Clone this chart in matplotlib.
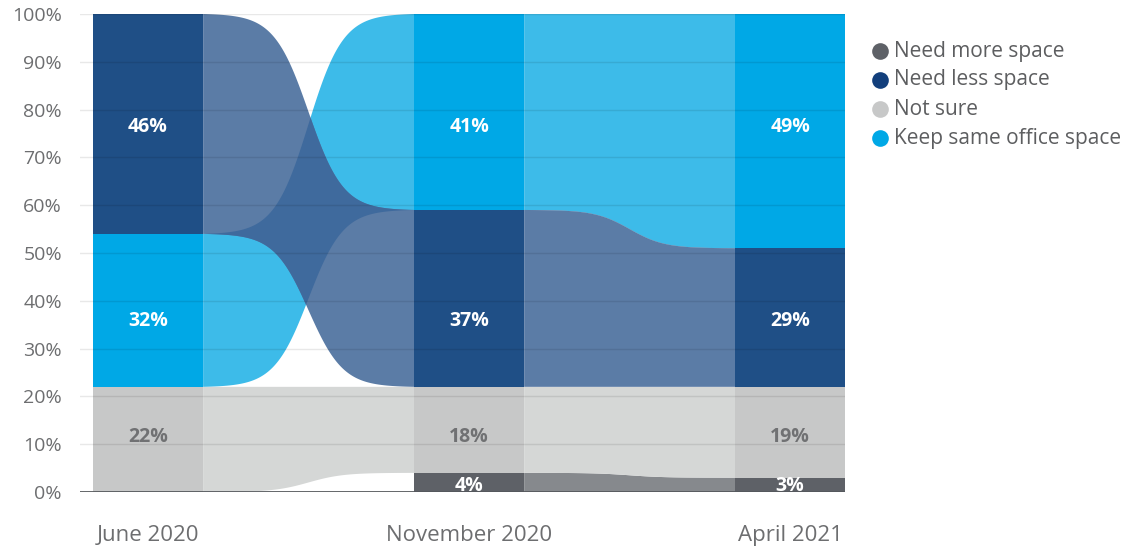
import numpy as np
import matplotlib
matplotlib.use("Agg")
import matplotlib.pyplot as plt
from matplotlib.lines import Line2D
from matplotlib.patches import Polygon

plt.rcParams["font.family"] = ["Open Sans", "DejaVu Sans"]

# ---- data -------------------------------------------------------------
periods = ["June 2020", "November 2020", "April 2021"]
series = ["Need more space", "Need less space", "Not sure", "Keep same office space"]
need_more = [0, 4, 3]
need_less = [46, 37, 29]
not_sure = [22, 18, 19]
keep_same = [32, 41, 49]
values = {
    "Need more space": need_more,
    "Need less space": need_less,
    "Not sure": not_sure,
    "Keep same office space": keep_same,
}
# bottom-to-top stacking order of each period's column
stack_order = [
    ["Need more space", "Not sure", "Keep same office space", "Need less space"],
    ["Need more space", "Not sure", "Need less space", "Keep same office space"],
    ["Need more space", "Not sure", "Need less space", "Keep same office space"],
]
# label heights per column (labels sit on fixed rows)
label_y_by_period = [
    {"Need more space": 1.3, "Not sure": 11.5, "Keep same office space": 35.8, "Need less space": 76.4},
    {"Need more space": 1.3, "Not sure": 11.5, "Need less space": 35.8, "Keep same office space": 76.4},
    {"Need more space": 1.3, "Not sure": 11.5, "Need less space": 35.8, "Keep same office space": 76.4},
]

# ---- style ------------------------------------------------------------
bar_colors = {
    "Need more space": "#5e6167",
    "Need less space": "#1f4f86",
    "Not sure": "#c7c8c8",
    "Keep same office space": "#00a8e6",
}
flow_colors = {
    "Need more space": "#86898d",
    "Need less space": "#5b7ca6",
    "Not sure": "#d5d7d6",
    "Keep same office space": "#3dbbe9",
}
crossing_color = "#3f6a9d"
label_color = {
    "Need more space": "white",
    "Need less space": "white",
    "Not sure": "#707173",
    "Keep same office space": "white",
}
legend_colors = {
    "Need more space": "#5e6167",
    "Need less space": "#123f7c",
    "Not sure": "#c7c8c8",
    "Keep same office space": "#00a8e6",
}
flow_z = {"Need more space": 1, "Not sure": 2, "Keep same office space": 3, "Need less space": 4}
text_grey = "#6d6e70"
bar_w = 0.343

W, H = 1125, 550
fig = plt.figure(figsize=(W / 100, H / 100), dpi=100)
ax = fig.add_axes([80 / W, 1 - 492 / H, 765 / W, 478 / H])
ax.set_xlim(-0.212, 2.171)
ax.set_ylim(0, 100)

# stacked extents per period
extents = [{} for _ in periods]
for p, order in enumerate(stack_order):
    base = 0
    for s in order:
        v = values[s][p]
        extents[p][s] = (base, base + v)
        base += v


def band(x0, x1, lo0, hi0, lo1, hi1, k=6.1):
    """Polygon of a smooth ribbon from one column edge to the next."""
    u = np.linspace(0, 1, 300)
    f = (np.tanh(k * (u - 0.5)) / np.tanh(k / 2) + 1) / 2
    xs = x0 + (x1 - x0) * u
    top = hi0 + (hi1 - hi0) * f
    bot = lo0 + (lo1 - lo0) * f
    return np.column_stack([np.concatenate([xs, xs[::-1]]), np.concatenate([top, bot[::-1]])])


# flows between neighbouring columns
for p in range(len(periods) - 1):
    x0 = p + bar_w / 2
    x1 = p + 1 - bar_w / 2
    polys = {}
    for s in series:
        if values[s][p] == 0 or values[s][p + 1] == 0:
            continue
        lo0, hi0 = extents[p][s]
        lo1, hi1 = extents[p + 1][s]
        polys[s] = band(x0, x1, lo0, hi0, lo1, hi1)
        ax.add_patch(Polygon(polys[s], closed=True, facecolor=flow_colors[s], lw=0, zorder=flow_z[s]))
    # where the two blue flows cross, shade the shared area
    ks, nl = polys.get("Keep same office space"), polys.get("Need less space")
    if ks is not None and nl is not None:
        clip = Polygon(ks, closed=True, transform=ax.transData, facecolor="none", lw=0)
        ax.add_patch(clip)
        cross = Polygon(nl, closed=True, facecolor=crossing_color, lw=0, zorder=5)
        ax.add_patch(cross)
        cross.set_clip_path(clip)

# columns
for p in range(len(periods)):
    for s in stack_order[p]:
        lo, hi = extents[p][s]
        if hi - lo <= 0:
            continue
        ax.bar(p, hi - lo, bottom=lo, width=bar_w, color=bar_colors[s], lw=0, zorder=6)
        ax.text(p, label_y_by_period[p][s], f"{values[s][p]}%", ha="center", va="center",
                color=label_color[s], fontsize=14, fontweight="bold", zorder=9)

# grid over everything, faint
for y in range(10, 101, 10):
    ax.axhline(y, color="black", alpha=0.09, lw=1, zorder=8)
ax.axhline(0, color="#55585c", lw=2, zorder=8)

for sp in ax.spines.values():
    sp.set_visible(False)
ax.set_yticks(range(0, 101, 10))
ax.set_yticklabels([f"{v}%" for v in range(0, 101, 10)])
ax.set_xticks(range(len(periods)))
ax.set_xticklabels(periods)
ax.tick_params(axis="y", length=0, pad=13, labelsize=14, labelcolor=text_grey)
ax.tick_params(axis="x", length=0, pad=24, labelsize=16, labelcolor=text_grey)

# legend
leg_y = [51, 80, 109, 138]
for s, yp in zip(series, leg_y):
    fy = 1 - yp / H
    fig.add_artist(Line2D([880 / W], [fy], marker="o", markersize=12, color=legend_colors[s],
                          markeredgewidth=0, transform=fig.transFigure))
    fig.text(894 / W, fy, s, ha="left", va="center", fontsize=15, color="#5d5e60")

fig.savefig("out.png", dpi=100)
